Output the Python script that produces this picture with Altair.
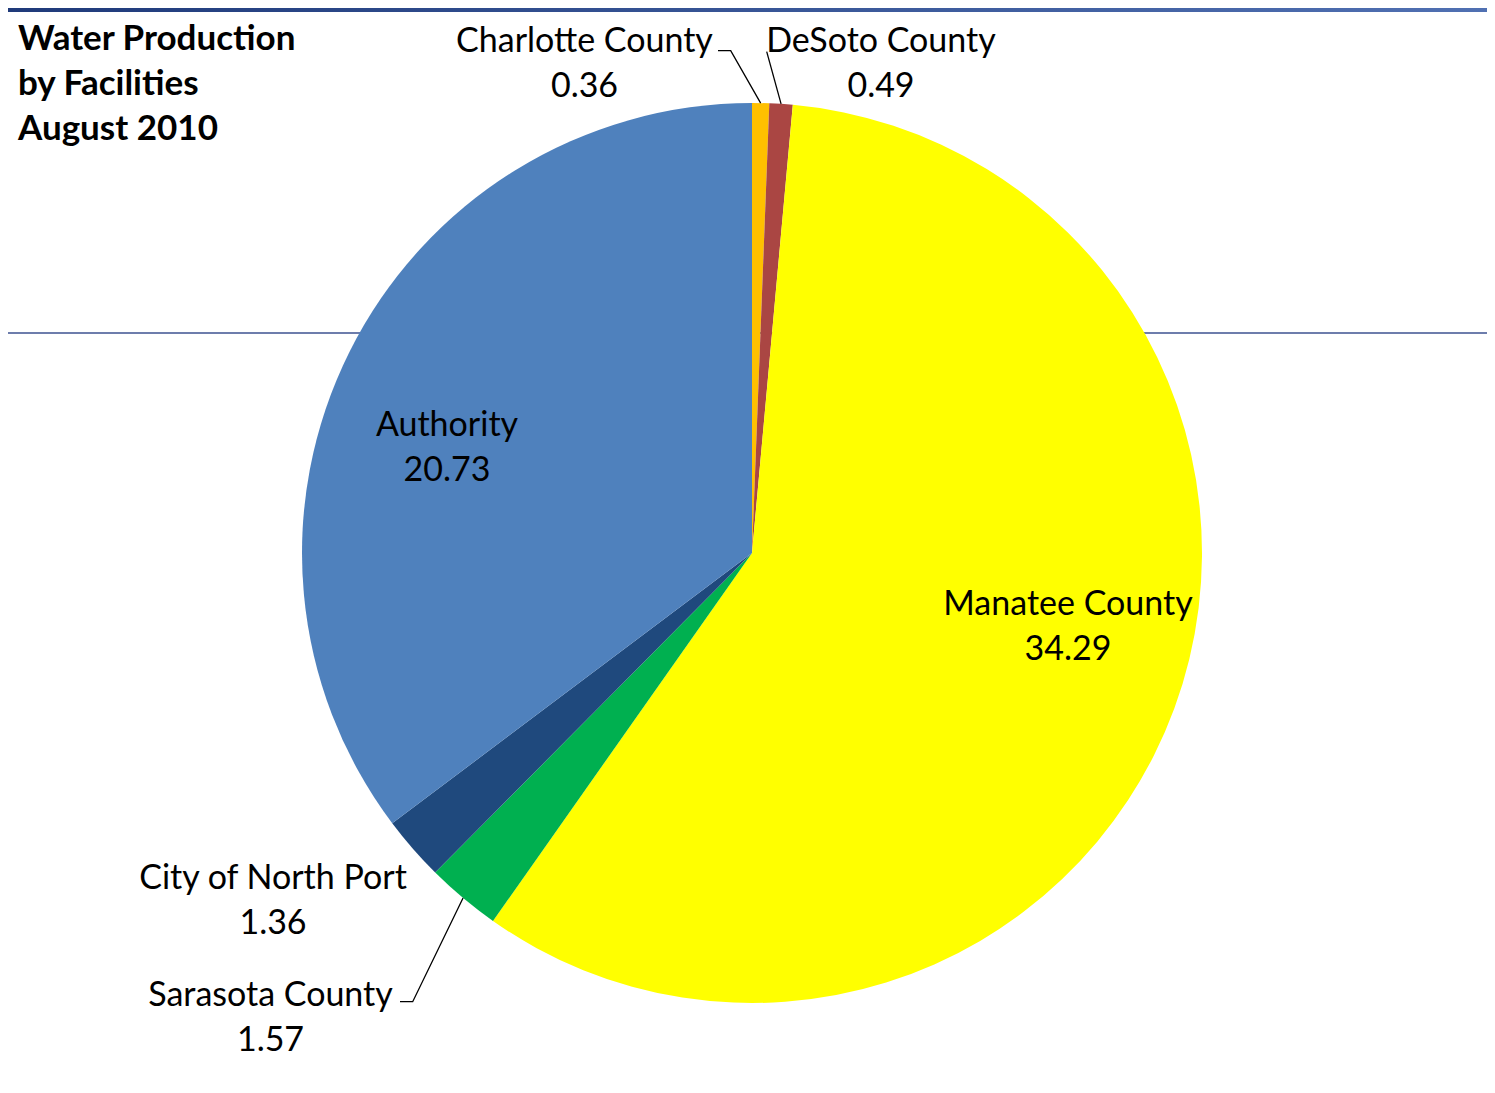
import altair as alt
import pandas as pd
import numpy as np

# ---- data ----
NAMES = ["Charlotte County", "DeSoto County", "Manatee County",
         "Sarasota County", "City of North Port", "Authority"]
VALUES = [0.36, 0.49, 34.29, 1.57, 1.36, 20.73]
COLORS = ["#FFC000", "#AA4643", "#FFFF00", "#00B050", "#1F497D", "#4F81BD"]
TITLE_LINES = ["Water Production", "by Facilities", "August 2010"]

# ---- layout (chart pixels) ----
W, H = 1479, 1077
CX, CY, R = 744, 545, 450
FONT = "Lato"
LINE_H = 45

# centre of each two-line label block
LABEL_XY = {
    "Charlotte County": (576.5, 56.5),
    "DeSoto County": (873, 56.5),
    "Manatee County": (1060, 619.5),
    "Sarasota County": (262.5, 1010.5),
    "City of North Port": (265, 893.5),
    "Authority": (439, 440),
}
LEADER_PTS = {
    "Charlotte County": [(722.7, 42.7), (710, 42.7)],
    "DeSoto County": [(758.7, 43.7)],
    "Sarasota County": [(404.7, 993.7), (392, 993.7)],
}

pie_df = pd.DataFrame({"name": NAMES, "value": VALUES, "idx": list(range(len(NAMES)))})

label_df = pd.DataFrame({
    "name": NAMES,
    "txt": [f"{n}\n{v:.2f}" for n, v in zip(NAMES, VALUES)],
    "lx": [LABEL_XY[n][0] for n in NAMES],
    "ly": [LABEL_XY[n][1] for n in NAMES],
})

vals = np.array(VALUES)
total = vals.sum()
start = np.cumsum(vals) - vals
mid_ang = (start + vals / 2) / total * 2 * np.pi
rows = []
for n, a in zip(NAMES, mid_ang):
    if n in LEADER_PTS:
        pts = [(CX + R * np.sin(a), CY - R * np.cos(a))] + LEADER_PTS[n]
        for k, (px, py) in enumerate(pts):
            rows.append({"key": n, "ord": k, "px": px, "py": py})
leader_df = pd.DataFrame(rows)

one = pd.DataFrame({"a": [0]})

top_bar = alt.Chart(one).mark_rect(
    color=alt.LinearGradient(
        gradient="linear",
        stops=[alt.GradientStop(color="#1F3A7A", offset=0),
               alt.GradientStop(color="#5070B2", offset=1)],
        x1=0, x2=1, y1=0, y2=0)
).encode(x=alt.value(0), x2=alt.value(W), y=alt.value(0), y2=alt.value(4))

hline = alt.Chart(one).mark_rule(color="#3C5291", strokeWidth=1.3).encode(
    x=alt.value(0), x2=alt.value(W), y=alt.value(325))

arc = alt.Chart(pie_df).mark_arc(outerRadius=R).encode(
    theta=alt.Theta("value:Q", stack=True),
    order=alt.Order("idx:Q"),
    color=alt.Color("name:N", scale=alt.Scale(domain=NAMES, range=COLORS), legend=None),
    x=alt.value(CX), y=alt.value(CY),
)

leaders = alt.Chart(leader_df).mark_line(color="black", strokeWidth=1.3).encode(
    x=alt.X("px:Q", scale=None, axis=None),
    y=alt.Y("py:Q", scale=None, axis=None),
    detail="key:N",
    order="ord:Q",
)

labels = alt.Chart(label_df).mark_text(
    font=FONT, fontSize=34, lineBreak="\n", lineHeight=LINE_H,
    align="center", baseline="middle", color="black", dy=-LINE_H / 2
).encode(
    x=alt.X("lx:Q", scale=None, axis=None),
    y=alt.Y("ly:Q", scale=None, axis=None),
    text="txt:N",
)

title = alt.Chart(pd.DataFrame({"t": ["\n".join(TITLE_LINES)]})).mark_text(
    font=FONT, fontSize=35, fontWeight="bold", lineBreak="\n", lineHeight=LINE_H,
    align="left", baseline="middle", color="black"
).encode(x=alt.value(10), y=alt.value(30.5), text="t:N")

chart = alt.layer(top_bar, hline, arc, leaders, labels, title).properties(
    width=W, height=H, padding=0,
    autosize=alt.AutoSizeParams(type="none"),
).configure_view(strokeWidth=0)

chart.save("out.html", embed_options={"renderer": "svg", "actions": False})
